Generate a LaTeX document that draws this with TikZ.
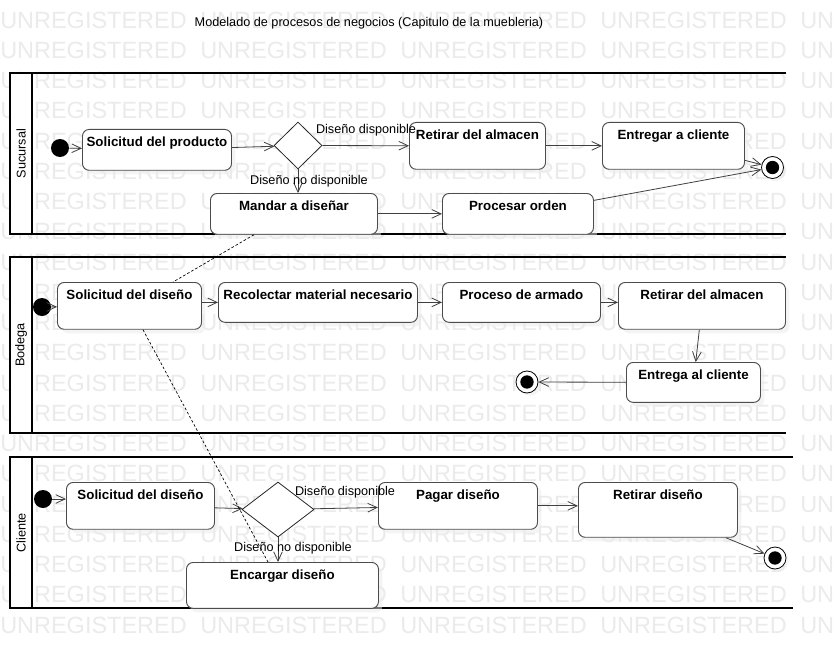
\documentclass[tikz,border=0pt]{standalone}
\usepackage{fontspec}
\setmainfont{Liberation Sans}
\usepackage{tikz}
\usetikzlibrary{arrows.meta,shapes.geometric,shadows,calc}

\begin{document}
\begin{tikzpicture}[x=0.75pt, y=-0.75pt,
    >={Straight Barb[length=7pt,width=6.5pt]},
    every node/.style={font=\fontsize{9.5}{11}\selectfont},
    act/.style 2 args={draw=black!70, line width=0.7pt, fill=white, rounded corners=5pt,
        drop shadow={fill=black!8, shadow xshift=3pt, shadow yshift=-3pt},
        anchor=north west, inner sep=0pt, minimum width=#1,
        text height=13pt, text depth=#2, font=\fontsize{10}{12}\selectfont\bfseries},
    decision/.style 2 args={diamond, draw=black!85, line width=0.6pt, fill=white,
        inner sep=0pt, minimum width=#1, minimum height=#2},
    start/.style={circle, fill=black, inner sep=0pt, minimum size=13.5pt},
    stop/.style={circle, draw=black, line width=0.6pt, fill=white, inner sep=0pt,
        minimum size=16.5pt,
        drop shadow={fill=black!8, shadow xshift=2pt, shadow yshift=-2pt},
        path picture={\fill[black] (path picture bounding box.center) circle (5pt);}},
    flow/.style={->, draw=black!75, line width=0.6pt},
    dep/.style={draw=black, line width=0.5pt, dash pattern=on 2pt off 1.5pt},
    lane/.style={draw=black, line width=1.5pt},
    guard/.style={inner sep=0pt},
    lanename/.style={rotate=90, inner sep=0pt},
    wmark/.style={anchor=west, inner sep=0pt, text=black!8,
        font=\fontsize{17.6}{20}\selectfont}]

    \useasboundingbox (0,0) rectangle (834,649);
    \fill[white] (0,0) rectangle (834,649);

    % Watermark
    \foreach \row in {0,...,20}
        \foreach \col in {0,...,4}
            \node[wmark] (wm-\row-\col) at (\col*200, 20+\row*30.25) {UNREGISTERED};

    % Title
    \node (title) at (369,23) {Modelado de procesos de negocios (Capitulo de la muebleria)};

    % Sucursal lane
    \fill[white] (10,73) rectangle (32,234);
    \draw[lane] (786,73) -- (10,73) -- (10,234) -- (786,234);
    \draw[lane] (32,73) -- (32,234);
    \node[lanename] (lsuc) at (21,153.5) {Sucursal};

    % Bodega lane
    \fill[white] (10,257) rectangle (32,433);
    \draw[lane] (786,257) -- (10,257) -- (10,433) -- (786,433);
    \draw[lane] (32,257) -- (32,433);
    \node[lanename] (lbod) at (21,345) {Bodega};

    % Cliente lane
    \fill[white] (10,457) rectangle (32,608);
    \draw[lane] (793,457) -- (10,457) -- (10,608) -- (793,608);
    \draw[lane] (32,457) -- (32,608);
    \node[lanename] (lcli) at (21,533) {Cliente};

    % Sucursal activities
    \node[start] (ini1) at (60,148) {};
    \node[act={111.75pt}{17.6pt}] (sprod) at (82,129) {Solicitud del producto};
    \node[decision={36pt}{35.25pt}] (dec1) at (298,145.5) {};
    \node[act={102pt}{22.1pt}] (ret1) at (409,122) {Retirar del almacen};
    \node[act={106.5pt}{22.1pt}] (entr) at (602,122) {Entregar a cliente};
    \node[stop] (fin1) at (772.5,167.5) {};
    \node[act={125.25pt}{17.6pt}] (mand) at (210,193) {Mandar a diseñar};
    \node[act={113.25pt}{17.6pt}] (proc) at (442,193) {Procesar orden};

    \draw[flow] (ini1) -- (sprod);
    \draw[flow] (sprod) -- (dec1);
    \draw[flow] (dec1) -- (ret1);
    \draw[flow] (dec1.south) -- (dec1.south |- mand.north);
    \draw[flow] (ret1) -- (entr);
    \draw[flow] ($(entr.east)+(0,14.5)$) -- (fin1);
    \draw[flow] (mand) -- (proc);
    \draw[flow] ($(proc.east)+(0,-13.5)$) -- (fin1);
    \node[guard] (g1) at (366,130) {Diseño disponible};
    \node[guard] (g2) at (309,181) {Diseño no disponible};

    % Bodega activities
    \node[start] (ini2) at (42,307) {};
    \node[act={108pt}{22.1pt}] (sdis2) at (57,282) {Solicitud del diseño};
    \node[act={149.25pt}{16.9pt}] (recol) at (218,282) {Recolectar material necesario};
    \node[act={118.5pt}{16.9pt}] (armado) at (442,282) {Proceso de armado};
    \node[act={125.25pt}{22.1pt}] (ret2) at (618,282) {Retirar del almacen};
    \node[act={100.5pt}{16.9pt}] (entrega) at (626,362) {Entrega al cliente};
    \node[stop] (fin2) at (527,382) {};

    \draw[flow] (ini2) -- (sdis2);
    \draw[flow] (sdis2.east |- recol.west) -- (recol.west);
    \draw[flow] (recol) -- (armado);
    \draw[flow] (armado.east) -- (armado.east -| ret2.west);
    \draw[flow] (ret2) -- (entrega);
    \draw[flow] (entrega) -- (fin2);

    % Cliente activities
    \node[start] (ini3) at (43,499) {};
    \node[act={111pt}{22.1pt}] (sdis3) at (66,482) {Solicitud del diseño};
    \node[decision={54pt}{41.25pt}] (dec2) at (278,509.5) {};
    \node[act={119.25pt}{22.1pt}] (pagar) at (378,482) {Pagar diseño};
    \node[act={119.25pt}{28.1pt}] (retdis) at (578,482) {Retirar diseño};
    \node[stop] (fin3) at (775,558) {};
    \node[act={144pt}{21.4pt}] (encarg) at (186,562) {Encargar diseño};

    \draw[flow] (ini3) -- (ini3 -| sdis3.west);
    \draw[flow] (sdis3) -- (dec2);
    \draw[flow] (dec2) -- (pagar);
    \draw[flow] (dec2.south) -- (dec2.south |- encarg.north);
    \draw[flow] (pagar.east) -- (pagar.east -| retdis.west);
    \draw[flow] ($(retdis.south east)+(-12,0)$) -- (fin3);
    \node[guard] (g3) at (345,492) {Diseño disponible};
    \node[guard] (g4) at (293,548) {Diseño no disponible};

    % Dependencies between lanes
    \draw[dep] ($(mand.south west)+(44,0)$) -- ($(sdis2.north west)+(116,0)$);
    \draw[dep] ($(sdis2.south west)+(86,0)$) -- ($(encarg.north west)+(82,0)$);
\end{tikzpicture}
\end{document}
